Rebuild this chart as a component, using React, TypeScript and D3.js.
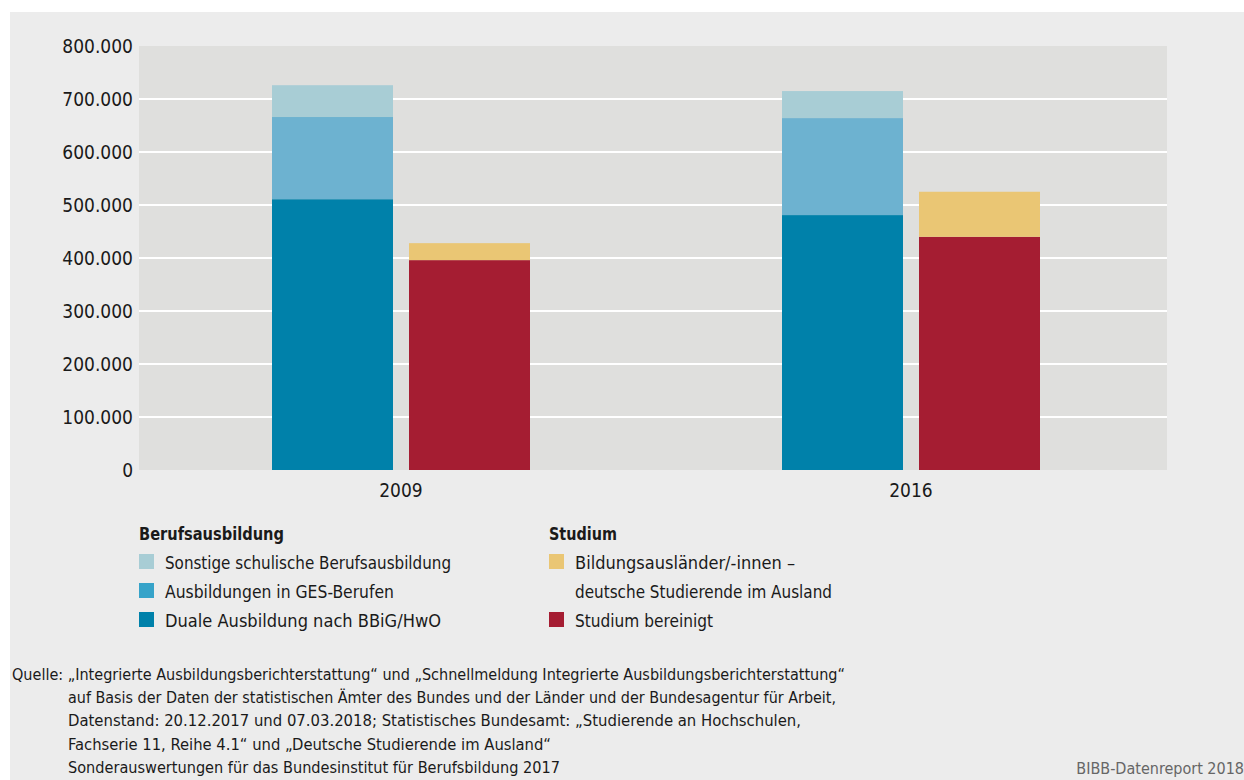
import React from "react";
import * as d3 from "d3";

const years = ["2009", "2016"];
const groups = ["Berufsausbildung", "Studium"];
const duale = [511000, 481000];
const ges = [155000, 183000];
const sonstige = [60000, 51000];
const studiumBereinigt = [396000, 440000];
const bildungsauslaender = [32000, 85000];
const yTicks = [0, 100000, 200000, 300000, 400000, 500000, 600000, 700000, 800000];

const C = {
  sonstige: "#a8cdd5",
  ges: "#6db2d0",
  gesLegend: "#36a3c9",
  duale: "#0081aa",
  gelb: "#eac674",
  rot: "#a51d32",
};

const FONT = "'Liberation Sans Narrow', 'DejaVu Sans Condensed', 'Roboto Condensed', sans-serif";

const sourceLines = [
  { x: 12, t: "Quelle: \u201eIntegrierte Ausbildungsberichterstattung\u201c und \u201eSchnellmeldung Integrierte Ausbildungsberichterstattung\u201c", w: 833 },
  { x: 68, t: "auf Basis der Daten der statistischen \u00c4mter des Bundes und der L\u00e4nder und der Bundesagentur f\u00fcr Arbeit,", w: 768 },
  { x: 68, t: "Datenstand: 20.12.2017 und 07.03.2018; Statistisches Bundesamt: \u201eStudierende an Hochschulen,", w: 733 },
  { x: 68, t: "Fachserie 11, Reihe 4.1\u201c  und \u201eDeutsche Studierende im Ausland\u201c", w: 483 },
  { x: 68, t: "Sonderauswertungen f\u00fcr das Bundesinstitut f\u00fcr Berufsbildung 2017", w: 492 },
];

const legendBeruf = [
  { c: C.sonstige, t: "Sonstige schulische Berufsausbildung", yy: 569, w: 286 },
  { c: C.gesLegend, t: "Ausbildungen in GES-Berufen", yy: 598, w: 229 },
  { c: C.duale, t: "Duale Ausbildung nach BBiG/HwO", yy: 627, w: 276 },
];

const legendStud = [
  { c: C.gelb, t: "Bildungsausl\u00e4nder/-innen \u2013", yy: 569, w: 220, sw: true },
  { c: "", t: "deutsche Studierende im Ausland", yy: 598, w: 257, sw: false },
  { c: C.rot, t: "Studium bereinigt", yy: 627, w: 138, sw: true },
];

export default function App() {
  const W = 1244, H = 780;
  const left = 139, right = 1167, top = 46, bottom = 470;
  const y = d3.scaleLinear().domain([0, 800000]).range([bottom, top]);
  const x0 = d3.scaleBand().domain(years).range([146, 1166]);
  const x1 = d3.scaleBand().domain(groups).range([126, 384]).paddingInner(16 / 137).paddingOuter(0);

  const stacks = years.map((yr, i) => ({
    yr,
    beruf: [
      { v: duale[i], c: C.duale },
      { v: ges[i], c: C.ges },
      { v: sonstige[i], c: C.sonstige },
    ],
    stud: [
      { v: studiumBereinigt[i], c: C.rot },
      { v: bildungsauslaender[i], c: C.gelb },
    ],
  }));

  const renderStack = (segs: { v: number; c: string }[], bx: number, key: string) => {
    let acc = 0;
    return segs.map((s, j) => {
      const y0 = acc;
      acc += s.v;
      return (
        <rect key={key + j} x={bx} width={x1.bandwidth()} y={y(acc)} height={y(y0) - y(acc)} fill={s.c} />
      );
    });
  };

  const fmt = (v: number) => (v === 0 ? "0" : d3.format(",")(v).replace(/,/g, "."));

  return (
    <svg width={W} height={H} style={{ position: "absolute", left: 0, top: 0, fontFamily: FONT }}>
      <rect x={0} y={0} width={W} height={H} fill="#ffffff" />
      <rect x={10} y={12} width={W - 10} height={H - 12} fill="#ececec" />
      <rect x={left} y={top} width={right - left} height={bottom - top} fill="#dfdfdd" />
      {yTicks.filter((t) => t > 0 && t < 800000).map((t) => (
        <line key={t} x1={left} x2={right} y1={y(t)} y2={y(t)} stroke="#ffffff" strokeWidth={2} />
      ))}
      {yTicks.map((t) => (
        <text key={"l" + t} x={133} y={y(t) + 7} textAnchor="end" fontSize={19} fill="#1a1a1a">{fmt(t)}</text>
      ))}
      {stacks.map((s) => {
        const gx = x0(s.yr)!;
        return (
          <g key={s.yr}>
            {renderStack(s.beruf, gx + x1("Berufsausbildung")!, s.yr + "b")}
            {renderStack(s.stud, gx + x1("Studium")!, s.yr + "s")}
            <text x={gx + x0.bandwidth() / 2} y={497} textAnchor="middle" fontSize={19} fill="#1a1a1a">{s.yr}</text>
          </g>
        );
      })}
      {/* Legend */}
      <text x={139} y={540} fontSize={18} fontWeight="bold" fill="#1a1a1a" textLength={145} lengthAdjust="spacingAndGlyphs">Berufsausbildung</text>
      {legendBeruf.map((d) => (
        <g key={d.t}>
          <rect x={139} y={d.yy - 15} width={15} height={15} fill={d.c} />
          <text x={165} y={d.yy} fontSize={18} fill="#1a1a1a" textLength={d.w} lengthAdjust="spacingAndGlyphs">{d.t}</text>
        </g>
      ))}
      <text x={549} y={540} fontSize={18} fontWeight="bold" fill="#1a1a1a" textLength={68} lengthAdjust="spacingAndGlyphs">Studium</text>
      {legendStud.map((d) => (
        <g key={d.t}>
          {d.sw && <rect x={549} y={d.yy - 15} width={15} height={15} fill={d.c} />}
          <text x={575} y={d.yy} fontSize={18} fill="#1a1a1a" textLength={d.w} lengthAdjust="spacingAndGlyphs">{d.t}</text>
        </g>
      ))}
      {/* Source */}
      {sourceLines.map((l, i) => (
        <text key={i} x={l.x} y={680 + i * 23.2} fontSize={16} fill="#1a1a1a" textLength={l.w} lengthAdjust="spacingAndGlyphs">{l.t}</text>
      ))}
      <text x={1244} y={774} textAnchor="end" fontSize={16} fill="#666666">BIBB-Datenreport 2018</text>
    </svg>
  );
}
